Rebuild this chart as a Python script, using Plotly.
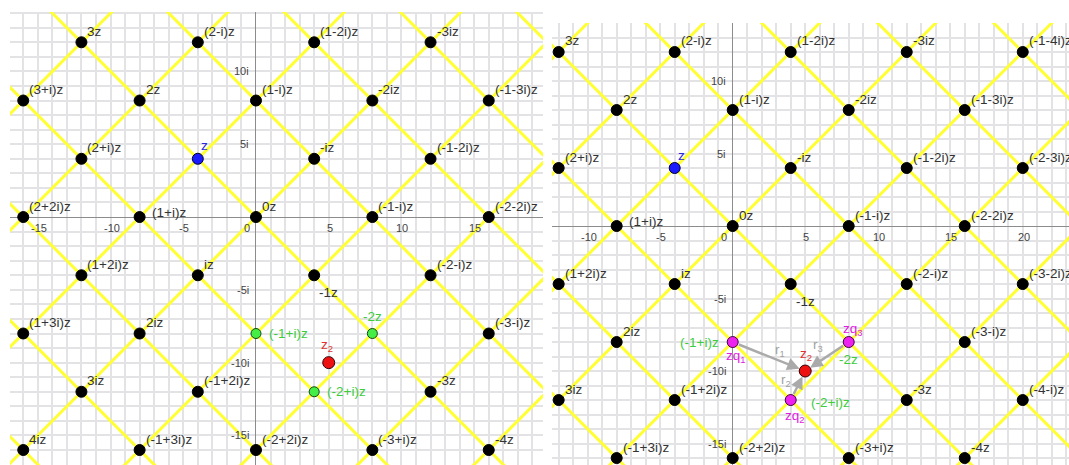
import plotly.graph_objects as go

# ---------------- data ----------------
Z = complex(-4, 4)          # the blue point z
Z2 = complex(5, -10)        # the red point z2

# Gaussian-integer coefficients (a, b) of the lattice points (a+bi)z shown in each panel
LEFT_COEFS = [(3, 0), (2, -1), (1, -2), (0, -3),
              (3, 1), (2, 0), (1, -1), (0, -2), (-1, -3),
              (2, 1), (1, 0), (0, -1), (-1, -2),
              (2, 2), (1, 1), (0, 0), (-1, -1), (-2, -2),
              (1, 2), (0, 1), (-1, 0), (-2, -1),
              (1, 3), (0, 2), (-1, 1), (-2, 0), (-3, -1),
              (0, 3), (-1, 2), (-2, 1), (-3, 0),
              (0, 4), (-1, 3), (-2, 2), (-3, 1), (-4, 0)]
RIGHT_COEFS = [(3, 0), (2, -1), (1, -2), (0, -3), (-1, -4),
               (2, 0), (1, -1), (0, -2), (-1, -3),
               (2, 1), (1, 0), (0, -1), (-1, -2), (-2, -3),
               (1, 1), (0, 0), (-1, -1), (-2, -2),
               (1, 2), (0, 1), (-1, 0), (-2, -1), (-3, -2),
               (0, 2), (-1, 1), (-2, 0), (-3, -1),
               (0, 3), (-1, 2), (-2, 1), (-3, 0), (-4, -1),
               (-1, 3), (-2, 2), (-3, 1), (-4, 0)]

# nearest lattice points of z2 (highlighted)
NEAR_COEFS = [(-1, 1), (-2, 1), (-2, 0)]
NEAR_NAMES = ["zq<sub>1</sub>", "zq<sub>2</sub>", "zq<sub>3</sub>"]
DIST_NAMES = ["r<sub>1</sub>", "r<sub>2</sub>", "r<sub>3</sub>"]

LEFT_XTICKS = [-15, -10, -5, 0, 5, 10, 15]
RIGHT_XTICKS = [-10, -5, 0, 5, 10, 15, 20]
YTICKS = [10, 5, -5, -10, -15]
YTICK_LABELS = ["10i", "5i", "-5i", "-10i", "-15i"]

LEFT_XRANGE = [-16.91, 19.73]
LEFT_YRANGE = [-17.03, 14.08]
RIGHT_XRANGE = [-12.46, 23.19]
RIGHT_YRANGE = [-16.48, 14.0]

W, H = 1069, 465
FONT = "Liberation Sans, Arial, sans-serif"
TXT = "#333333"
GREEN = "#3ccc3c"
MAGENTA = "#e020e0"


def label_of(a, b):
    if b == 0:
        if a == 0:
            return "0z"
        if a == 1:
            return "z"
        return f"{a}z"
    if a == 0:
        if b == 1:
            return "iz"
        if b == -1:
            return "-iz"
        return f"{b}iz"
    bs = "" if abs(b) == 1 else str(abs(b))
    sign = "+" if b > 0 else "-"
    return f"({a}{sign}{bs}i)z"


def pt(a, b):
    return complex(a, b) * Z


fig = go.Figure()
annotations = []

panels = [
    dict(xr="x", yr="y", coefs=LEFT_COEFS, xticks=LEFT_XTICKS, right=False),
    dict(xr="x2", yr="y2", coefs=RIGHT_COEFS, xticks=RIGHT_XTICKS, right=True),
]

for p in panels:
    xr, yr = p["xr"], p["yr"]
    # yellow lattice lines along the directions z and iz
    lx, ly = [], []
    for base, direc in ((Z, 1j * Z), (1j * Z, Z)):
        for k in range(-7, 8):
            s = base * k - direc * 8
            e = base * k + direc * 8
            lx += [s.real, e.real, None]
            ly += [s.imag, e.imag, None]
    fig.add_trace(go.Scatter(x=lx, y=ly, mode="lines", xaxis=xr, yaxis=yr,
                             line=dict(color="#ffff33", width=3),
                             hoverinfo="skip", showlegend=False))

    special = set(NEAR_COEFS) | {(1, 0)}
    bx, by = [], []
    for a, b in p["coefs"]:
        c = pt(a, b)
        if (a, b) not in special:
            bx.append(c.real)
            by.append(c.imag)
        lab = label_of(a, b)
        if (a, b) == (1, 0):
            annotations.append(dict(x=c.real, y=c.imag, xref=xr, yref=yr, text=lab,
                                    showarrow=False, xanchor="center", yanchor="middle",
                                    xshift=7, yshift=13,
                                    font=dict(family=FONT, size=13.5, color="#2a2ad8")))
            continue
        if (a, b) in NEAR_COEFS:
            continue
        if (a, b) == (-1, 0):
            xs, ys = 3, -17
        elif (a, b) == (1, 1):
            xs, ys = 10, 5
        else:
            xs, ys = 4, 11
        annotations.append(dict(x=c.real, y=c.imag, xref=xr, yref=yr, text=lab,
                                showarrow=False, xanchor="left", yanchor="middle",
                                xshift=xs, yshift=ys,
                                font=dict(family=FONT, size=13.5, color=TXT)))
    fig.add_trace(go.Scatter(x=bx, y=by, mode="markers", xaxis=xr, yaxis=yr,
                             marker=dict(size=11, color="black", line=dict(color="black", width=1)),
                             hoverinfo="skip", showlegend=False))
    # blue z
    fig.add_trace(go.Scatter(x=[Z.real], y=[Z.imag], mode="markers", xaxis=xr, yaxis=yr,
                             marker=dict(size=11, color="#1a1aff", line=dict(color="#000033", width=1)),
                             hoverinfo="skip", showlegend=False))

    # tick labels
    for t in p["xticks"]:
        annotations.append(dict(x=t, y=0, xref=xr, yref=yr, text=str(t), showarrow=False,
                                xanchor="center", yanchor="middle",
                                xshift=-9 if t == 0 else 1, yshift=-11,
                                font=dict(family=FONT, size=11, color="#444444")))
    for t, s in zip(YTICKS, YTICK_LABELS):
        annotations.append(dict(x=0, y=t, xref=xr, yref=yr, text=s, showarrow=False,
                                xanchor="right", yanchor="middle", xshift=-5,
                                font=dict(family=FONT, size=11, color="#444444")))

    nx = [pt(a, b).real for a, b in NEAR_COEFS]
    ny = [pt(a, b).imag for a, b in NEAR_COEFS]
    if not p["right"]:
        fig.add_trace(go.Scatter(x=nx, y=ny, mode="markers", xaxis=xr, yaxis=yr,
                                 marker=dict(size=10, color="#44ee44", line=dict(color="#114411", width=1)),
                                 hoverinfo="skip", showlegend=False))
        green_pos = [(11, 0, "left"), (11, 0, "left"), (0, 17, "center")]
        for (a, b), (xs, ys, anc) in zip(NEAR_COEFS, green_pos):
            c = pt(a, b)
            annotations.append(dict(x=c.real, y=c.imag, xref=xr, yref=yr, text=label_of(a, b),
                                    showarrow=False, xanchor=anc, yanchor="middle",
                                    xshift=xs, yshift=ys,
                                    font=dict(family=FONT, size=13.5, color=GREEN)))
        annotations.append(dict(x=Z2.real, y=Z2.imag, xref=xr, yref=yr, text="z<sub>2</sub>",
                                showarrow=False, xanchor="center", yanchor="middle",
                                xshift=-2, yshift=17,
                                font=dict(family=FONT, size=13.5, color="#dd3333")))
    else:
        # arrows from nearest lattice points to z2
        for (a, b), rn, (rxs, rys) in zip(NEAR_COEFS, DIST_NAMES, [(11, 6), (-12, 5), (-9, 11)]):
            c = pt(a, b)
            annotations.append(dict(x=Z2.real, y=Z2.imag, ax=c.real, ay=c.imag,
                                    xref=xr, yref=yr, axref=xr, ayref=yr, text="",
                                    showarrow=True, arrowhead=2, arrowsize=1, arrowwidth=2.5,
                                    arrowcolor="#aaaaaa", standoff=6, startstandoff=5))
            m = (c + Z2) / 2
            annotations.append(dict(x=m.real, y=m.imag, xref=xr, yref=yr, text=rn,
                                    showarrow=False, xanchor="center", yanchor="middle",
                                    xshift=rxs, yshift=rys,
                                    font=dict(family=FONT, size=13.5, color="#a0a0a0")))
        fig.add_trace(go.Scatter(x=nx, y=ny, mode="markers", xaxis=xr, yaxis=yr,
                                 marker=dict(size=11, color="#ee22ee", line=dict(color="#440044", width=1)),
                                 hoverinfo="skip", showlegend=False))
        green_pos = [(-12, 0, "right"), (18, -2, "left"), (0, -17, "center")]
        mag_pos = [(3, -14), (4, -16), (4, 13)]
        for (a, b), (xs, ys, anc), nm, (mxs, mys) in zip(NEAR_COEFS, green_pos, NEAR_NAMES, mag_pos):
            c = pt(a, b)
            annotations.append(dict(x=c.real, y=c.imag, xref=xr, yref=yr, text=label_of(a, b),
                                    showarrow=False, xanchor=anc, yanchor="middle",
                                    xshift=xs, yshift=ys,
                                    font=dict(family=FONT, size=13.5, color=GREEN)))
            annotations.append(dict(x=c.real, y=c.imag, xref=xr, yref=yr, text=nm,
                                    showarrow=False, xanchor="center", yanchor="middle",
                                    xshift=mxs, yshift=mys,
                                    font=dict(family=FONT, size=13.5, color=MAGENTA)))
        annotations.append(dict(x=Z2.real, y=Z2.imag, xref=xr, yref=yr, text="z<sub>2</sub>",
                                showarrow=False, xanchor="center", yanchor="middle",
                                xshift=1, yshift=17,
                                font=dict(family=FONT, size=13.5, color="#dd3333")))

    fig.add_trace(go.Scatter(x=[Z2.real], y=[Z2.imag], mode="markers", xaxis=xr, yaxis=yr,
                             marker=dict(size=12, color="#ee1111", line=dict(color="#330000", width=1)),
                             hoverinfo="skip", showlegend=False))

axis_common = dict(showgrid=True, gridcolor="#e3e3e6", gridwidth=2, dtick=1, tick0=0,
                   zeroline=True, zerolinecolor="#8c8c8c", zerolinewidth=1,
                   showticklabels=False, ticks="", showline=False, fixedrange=True)

fig.update_layout(
    width=W, height=H,
    margin=dict(l=0, r=0, t=0, b=0),
    paper_bgcolor="white", plot_bgcolor="white",
    showlegend=False,
    xaxis=dict(domain=[10 / W, 543 / W], range=LEFT_XRANGE, anchor="y", **axis_common),
    yaxis=dict(domain=[0, 453 / H], range=LEFT_YRANGE, anchor="x", **axis_common),
    xaxis2=dict(domain=[552 / W, 1.0], range=RIGHT_XRANGE, anchor="y2", **axis_common),
    yaxis2=dict(domain=[0, 442 / H], range=RIGHT_YRANGE, anchor="x2", **axis_common),
    annotations=annotations,
)

fig.write_html("out.html")
